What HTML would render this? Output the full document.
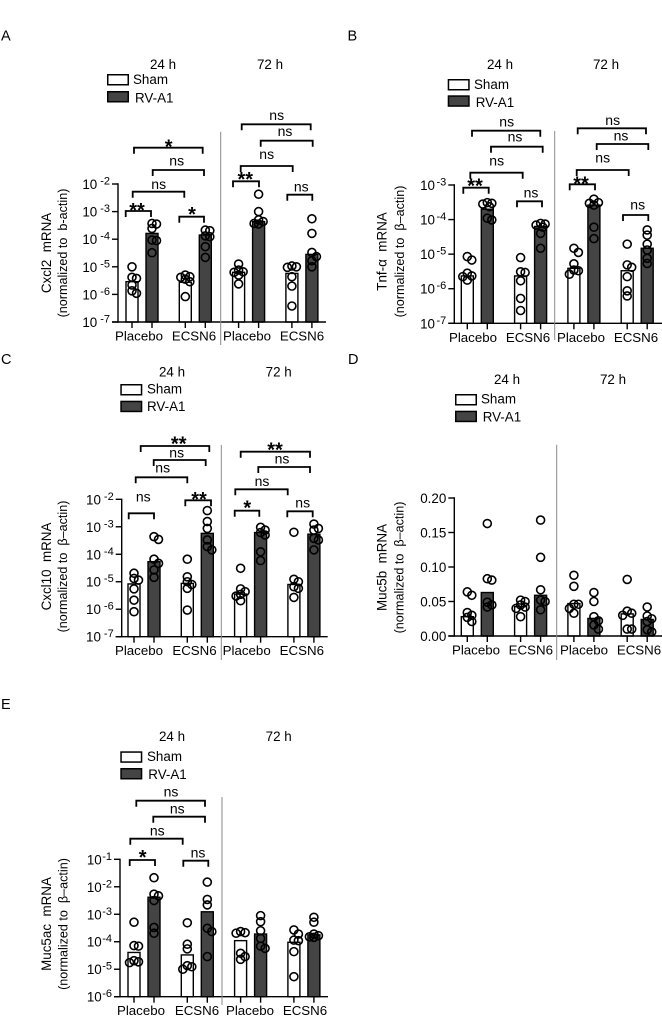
<!DOCTYPE html>
<html lang="en">
<head>
<meta charset="utf-8">
<title>mRNA expression panels</title>
<style>
html,body{margin:0;padding:0;background:#fff;width:662px;height:1016px;overflow:hidden}
svg{display:block;font-family:"Liberation Sans",sans-serif;fill:#000;filter:blur(0.35px)}
text{white-space:pre}
</style>
</head>
<body>
<svg id="figure" width="662" height="1016" viewBox="0 0 662 1016" xmlns="http://www.w3.org/2000/svg"></svg>
<script>
// ---------- categories ----------
const treatments = ["Placebo", "ECSN6", "Placebo", "ECSN6"];
const seriesNames = ["Sham", "RV-A1"];
const timepoints = ["24 h", "72 h"];

// ---------- tick labels ----------
const ticksA = [-7, -6, -5, -4, -3, -2];
const ticksB = [-7, -6, -5, -4, -3];
const ticksC = [-7, -6, -5, -4, -3, -2];
const ticksD = [0, 0.05, 0.10, 0.15, 0.20];
const ticksE = [-6, -5, -4, -3, -2, -1];
const tickTextD = ["0.00", "0.05", "0.10", "0.15", "0.20"];

// ---------- values: log10(mRNA) for A, B, C, E; raw mRNA for D ----------
// group order: Sham/RV-A1 x Placebo/ECSN6 x 24 h/72 h
const barsA = [-5.54, -3.79, -5.56, -3.85, -5.2, -3.36, -5.24, -4.55];
const pointsA = [
  [-5.0, -5.38, -5.42, -5.66, -5.87, -5.96],
  [-3.43, -3.45, -3.61, -4.03, -4.05, -4.49],
  [-5.3, -5.36, -5.38, -5.45, -5.54, -6.08],
  [-3.67, -3.69, -3.88, -3.91, -4.27, -4.66],
  [-4.9, -5.12, -5.18, -5.2, -5.3, -5.62],
  [-2.37, -3.0, -3.3, -3.36, -3.43, -3.45],
  [-4.97, -5.0, -5.02, -5.36, -5.7, -6.42],
  [-3.26, -3.79, -4.48, -4.63, -4.78, -5.0]
];
const barsB = [-5.63, -3.7, -5.63, -4.2, -5.41, -3.58, -5.48, -4.83];
const pointsB = [
  [-5.07, -5.17, -5.55, -5.63, -5.65, -5.75],
  [-3.51, -3.53, -3.55, -3.63, -3.96, -4.01],
  [-5.1, -5.51, -5.53, -5.77, -6.28, -6.63],
  [-4.11, -4.13, -4.16, -4.22, -4.4, -4.83],
  [-4.83, -4.95, -5.28, -5.46, -5.48, -5.58],
  [-3.41, -3.51, -3.53, -3.58, -4.22, -4.55],
  [-4.71, -5.31, -5.38, -5.65, -6.06, -6.21],
  [-4.3, -4.45, -4.71, -4.88, -5.12, -5.27]
];
const barsC = [-5.08, -4.27, -5.06, -3.24, -5.45, -3.21, -5.1, -3.27];
const pointsC = [
  [-4.69, -4.88, -4.94, -5.26, -5.67, -6.09],
  [-3.36, -3.46, -4.18, -4.33, -4.57, -4.84],
  [-4.18, -4.82, -5.0, -5.1, -5.24, -6.03],
  [-2.41, -2.81, -3.06, -3.48, -3.72, -3.84],
  [-4.51, -5.26, -5.36, -5.46, -5.52, -5.69],
  [-3.02, -3.12, -3.21, -3.3, -3.91, -4.23],
  [-3.2, -4.91, -5.0, -5.18, -5.24, -5.57],
  [-2.9, -3.06, -3.12, -3.42, -3.48, -3.84]
];
const barsD = [0.028, 0.063, 0.0425, 0.059, 0.047, 0.0255, 0.032, 0.024];
const pointsD = [
  [0.064, 0.059, 0.034, 0.030, 0.027, 0.021],
  [0.163, 0.083, 0.081, 0.049, 0.045, 0.042],
  [0.052, 0.050, 0.045, 0.042, 0.040, 0.028],
  [0.168, 0.114, 0.067, 0.052, 0.050, 0.038],
  [0.088, 0.072, 0.046, 0.046, 0.040, 0.033],
  [0.063, 0.050, 0.028, 0.022, 0.016, 0.010],
  [0.082, 0.036, 0.033, 0.030, 0.010, 0.010],
  [0.042, 0.029, 0.025, 0.021, 0.009, 0.006]
];
const barsE = [-4.39, -2.38, -4.48, -2.91, -3.96, -3.72, -4.02, -3.75];
const pointsE = [
  [-3.29, -4.14, -4.16, -4.69, -4.73, -4.76],
  [-1.67, -2.27, -2.33, -2.5, -3.48, -3.69],
  [-3.31, -4.09, -4.26, -4.87, -4.91, -5.0],
  [-1.83, -2.46, -2.66, -3.51, -3.63, -4.54],
  [-3.63, -3.67, -3.69, -4.42, -4.54, -4.64],
  [-3.05, -3.27, -3.6, -3.88, -4.16, -4.24],
  [-3.57, -3.72, -3.94, -3.96, -4.36, -5.27],
  [-3.11, -3.29, -3.72, -3.78, -3.82, -3.84]
];

// ---------- panel layout (page geometry, separate from the data) ----------
const panels = [
  { key: "a", letter: "A", letterX: 1, letterY: 40.5, x0: 118, xEnd: 326, yTop: 184, yBot: 322, first: 14,
    domain: [-7, -2], ticks: ticksA, tickText: null, bars: barsA, points: pointsA, supGap: 3,
    title: "Cxcl2  mRNA", sub: "(normalized to  b-actin)", titleX: 51, subX: 67, titleY: 253,
    timeX: [163, 270], timeY: 69, labelX: [139, 194, 247, 302],
    divider: [220.7, 131.7, 345],
    legend: { x: 107, y1: 74, y2: 91, tx1: 133, tx2: 135, b1: 84, b2: 102.7 },
    brackets: [
      [125.7, 151, 211, "**", 137, 205], [132.7, 184.3, 191.7, "ns", 158.7, 189],
      [179.3, 204, 216.7, "*", 192, 209], [152.7, 204, 170, "ns", 176.7, 165.7],
      [134, 202.7, 147.7, "*", 168.7, 141.7], [240.7, 292.7, 166, "ns", 266.7, 159],
      [233, 259, 181.3, "**", 245.3, 174], [287.3, 312.3, 194.7, "ns", 301.3, 191.7],
      [241.7, 310.7, 124.3, "ns", 276.7, 120], [260.7, 312.7, 140.7, "ns", 285, 136]
    ] },
  { key: "b", letter: "B", letterX: 347.5, letterY: 40.5, x0: 454.3, xEnd: 662, yTop: 185, yBot: 323.3, first: 13,
    domain: [-7, -3], ticks: ticksB, tickText: null, bars: barsB, points: pointsB, supGap: 1.5,
    title: "Tnf-\u03b1  mRNA", sub: "(normalized to  \u03b2\u2013actin)", titleX: 386.5, subX: 404, titleY: 251.5,
    timeX: [500, 606], timeY: 69, labelX: [473, 528, 581, 636],
    divider: [554.7, 131, 340],
    legend: { x: 447.7, y1: 79, y2: 95.3, tx1: 474, tx2: 475.7, b1: 89, b2: 107 },
    brackets: [
      [463.3, 488.7, 187.7, "**", 475, 180.7], [470.3, 522.7, 172.7, "ns", 496.7, 165.7],
      [517, 542, 201.3, "ns", 531, 197.7], [491, 542.7, 146.7, "ns", 515, 141.7],
      [472, 540.3, 130.7, "ns", 506.7, 126.7], [569.7, 595, 184.3, "**", 581, 178.3],
      [576.7, 628.7, 170, "ns", 602.7, 162.7], [623, 648.3, 215, "ns", 637.7, 209.3],
      [577.7, 646, 128.3, "ns", 612.7, 125], [596.7, 648.3, 144, "ns", 621, 140.7]
    ] },
  { key: "c", letter: "C", letterX: 1, letterY: 364, x0: 121.7, xEnd: 327.7, yTop: 499.3, yBot: 636.7, first: 12.3,
    domain: [-7, -2], ticks: ticksC, tickText: null, bars: barsC, points: pointsC, supGap: 3,
    title: "Cxcl10  mRNA", sub: "(normalized to  \u03b2\u2013actin)", titleX: 51, subX: 67, titleY: 566.5,
    timeX: [172, 278.7], timeY: 376.7, labelX: [139, 194.5, 246.7, 301.8],
    divider: [221.3, 445, 660],
    legend: { x: 120.3, y1: 384, y2: 400.7, tx1: 147, tx2: 147, b1: 393.7, b2: 411 },
    brackets: [
      [128.7, 154, 513.3, "ns", 143.3, 501.7], [135.7, 187.3, 477.3, "ns", 162.7, 472.7],
      [185.3, 211, 500.3, "**", 199, 494], [153.7, 205.7, 460, "ns", 176.7, 457.3],
      [140.7, 209.3, 446, "**", 178.7, 438.3], [234.7, 259.3, 510.7, "*", 247.3, 502.7],
      [235.3, 287.7, 489.3, "ns", 262, 486], [287.3, 312.7, 511.3, "ns", 302.7, 507.7],
      [258.3, 310, 467, "ns", 282, 463.3], [240.7, 310, 451.7, "**", 275, 444.3]
    ] },
  { key: "d", letter: "D", letterX: 348, letterY: 364, x0: 454.3, xEnd: 662, yTop: 498, yBot: 636, first: 13,
    domain: [0, 0.2], ticks: ticksD, tickText: tickTextD, bars: barsD, points: pointsD, supGap: 0,
    title: "Muc5b  mRNA", sub: "(normalized to  \u03b2\u2013actin)", titleX: 386.5, subX: 403.5, titleY: 567.5,
    timeX: [507, 613], timeY: 384, labelX: [476, 530.8, 584, 639],
    divider: [556.7, 444.7, 660],
    legend: { x: 455, y1: 394, y2: 410.7, tx1: 481, tx2: 482.7, b1: 403.7, b2: 421.7 },
    brackets: [] },
  { key: "e", letter: "E", letterX: 1, letterY: 709, x0: 120, xEnd: 328, yTop: 859.3, yBot: 996.7, first: 14,
    domain: [-6, -1], ticks: ticksE, tickText: null, bars: barsE, points: pointsE, supGap: 0.5,
    title: "Muc5ac  mRNA", sub: "(normalized to  \u03b2\u2013actin)", titleX: 51, subX: 67.5, titleY: 924,
    timeX: [172, 278.7], timeY: 741, labelX: [141, 197, 250, 305],
    divider: [222, 797, 1005],
    legend: { x: 120.3, y1: 751.3, y2: 768, tx1: 147, tx2: 148.3, b1: 761, b2: 779 },
    brackets: [
      [129.7, 155, 860, "*", 142.7, 852], [130.3, 182.7, 838.7, "ns", 157.3, 835.3],
      [183.3, 208.3, 860.7, "ns", 198, 857.3], [153.3, 205, 816.7, "ns", 177.3, 813.3],
      [136.3, 205, 800.7, "ns", 171, 796.7]
    ] }
];

const BAR_WIDTH = 12, PAIR_GAP = 20, CLUSTER_GAP = 53.3, POINT_R = 4;
const SVG_NS = "http://www.w3.org/2000/svg";
const root = document.getElementById("figure");

function make(tag, attrs, parent, content) {
  const el = document.createElementNS(SVG_NS, tag);
  for (const k in attrs) el.setAttribute(k, attrs[k]);
  if (content !== undefined) el.textContent = content;
  parent.appendChild(el);
  return el;
}
// axis functions
function yScale(p) {
  return v => p.yBot - (v - p.domain[0]) / (p.domain[1] - p.domain[0]) * (p.yBot - p.yTop);
}
function xScale(p) {
  return g => p.x0 + p.first + Math.floor(g / 2) * CLUSTER_GAP + (g % 2) * PAIR_GAP;
}
// deterministic swarm: nudge overlapping points sideways, tightly
function swarm(ys) {
  const order = ys.map((y, i) => [y, i]).sort((a, b) => a[0] - b[0]);
  const slots = [0, 4.5, -4.5, 2.2, -2.2];
  const placed = [], out = [];
  for (const [y, i] of order) {
    let best = slots[0], bestD = -1;
    for (const s of slots) {
      let d = Infinity;
      for (const q of placed) d = Math.min(d, Math.hypot(q[0] - s, q[1] - y));
      if (d >= 4.5) { best = s; bestD = d; break; }
      if (d > bestD) { bestD = d; best = s; }
    }
    placed.push([best, y]);
    out[i] = best;
  }
  return out;
}

panels.forEach(p => {
  const g = make("g", {}, root);
  
  
  const y = yScale(p), x = xScale(p);

  const letter = make("text", { x: p.letterX, y: p.letterY, "font-size": 14.5 }, g, p.letter);
  
  

  timepoints.forEach((t, i) => {
    const el = make("text", { x: p.timeX[i], y: p.timeY, "font-size": 13.4, "text-anchor": "middle" }, g, t);
    
    
  });

  // legend
  const L = p.legend;
  const sw1 = make("rect", { x: L.x + 0.75, y: L.y1 + 0.75, width: 20.5, height: 10, fill: "#fff", stroke: "#000", "stroke-width": 1.5 }, g);
  
  
  const sw2 = make("rect", { x: L.x + 0.75, y: L.y2 + 0.75, width: 20.5, height: 10, fill: "#444", stroke: "#000", "stroke-width": 1.5 }, g);
  
  
  const lt1 = make("text", { x: L.tx1, y: L.b1, "font-size": 13.4 }, g, seriesNames[0]);
  
  
  const lt2 = make("text", { x: L.tx2, y: L.b2, "font-size": 13.4 }, g, seriesNames[1]);
  
  

  // axis titles
  const t1 = make("text", { transform: `translate(${p.titleX},${p.titleY}) rotate(-90)`, "font-size": 13.4, "text-anchor": "middle" }, g, p.title);
  
  
  const t2 = make("text", { transform: `translate(${p.subX},${p.titleY}) rotate(-90)`, "font-size": 12.6, "text-anchor": "middle" }, g, p.sub);
  
  

  // bars
  p.bars.forEach((v, i) => {
    const top = y(v);
    const bar = make("rect", {
      x: x(i) - BAR_WIDTH / 2, y: top, width: BAR_WIDTH, height: p.yBot - top,
      fill: i % 2 ? "#444" : "#fff", stroke: "#000", "stroke-width": 1.4
    }, g);
    
    
  });

  // points
  p.points.forEach((vals, i) => {
    const ys = vals.map(y), dx = swarm(ys);
    ys.forEach((py, j) => {
      const c = make("circle", { cx: x(i) + dx[j], cy: py, r: POINT_R, fill: "none", stroke: "#000", "stroke-width": 1.6 }, g);
      
      
    });
  });

  // y axis
  const ya = make("line", { x1: p.x0, x2: p.x0, y1: p.yTop - 0.7, y2: p.yBot + 0.7, stroke: "#000", "stroke-width": 1.4 }, g);
  
  
  p.ticks.forEach((tv, i) => {
    const ty = y(tv);
    const tk = make("line", { x1: p.x0 - 6, x2: p.x0, y1: ty, y2: ty, stroke: "#000", "stroke-width": 1.4 }, g);
    
    
    const lab = make("text", { x: p.x0 - 8, y: ty + 5, "font-size": 13.4, "text-anchor": "end" }, g);
    
    
    if (p.tickText) {
      lab.textContent = p.tickText[i];
    } else {
      make("tspan", {}, lab, "10");
      make("tspan", { dy: -4.5, dx: p.supGap, "font-size": 11 }, lab, String(tv));
    }
  });

  // x axis
  const xa = make("line", { x1: p.x0 - 6, x2: p.xEnd, y1: p.yBot, y2: p.yBot, stroke: "#000", "stroke-width": 1.4 }, g);
  
  
  p.bars.forEach((v, i) => {
    const tk = make("line", { x1: x(i), x2: x(i), y1: p.yBot, y2: p.yBot + 6, stroke: "#000", "stroke-width": 1.4 }, g);
    
    
  });
  treatments.forEach((name, i) => {
    const lab = make("text", { x: p.labelX[i], y: p.yBot + 18.5, "font-size": 13.3, "text-anchor": "middle" }, g, name);
    
    
  });

  // divider between timepoints
  const div = make("line", { x1: p.divider[0], x2: p.divider[0], y1: p.divider[1], y2: p.divider[2], stroke: "#8a8a8a", "stroke-width": 1 }, g);
  
  

  // significance brackets
  p.brackets.forEach(b => {
    const [x1, x2, by, label, lx, ly] = b;
    const path = make("path", { d: `M${x1} ${by + 6}V${by}H${x2}V${by + 6}`, fill: "none", stroke: "#000", "stroke-width": 1.8 }, g);
    
    
    const star = label !== "ns";
    const txt = make("text", {
      x: lx, y: star ? ly + 12 : ly, "text-anchor": "middle",
      "font-size": star ? 20 : 14, "font-weight": star ? "bold" : "normal"
    }, g, label);
    
    
  });
});
</script>
</body>
</html>
